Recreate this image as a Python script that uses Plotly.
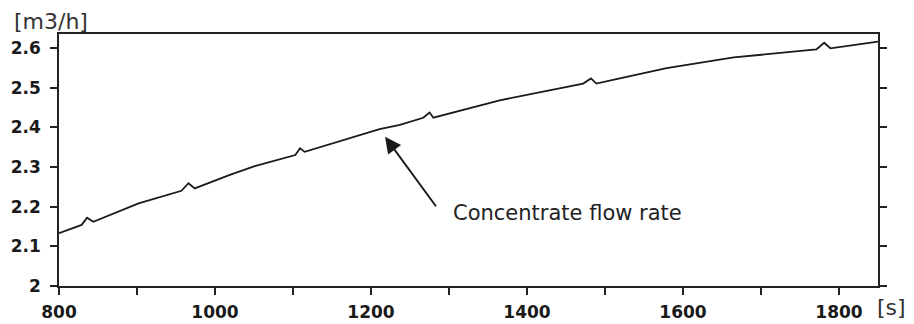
import plotly.graph_objects as go

# Data
time_s = [800, 829, 836, 844, 902, 957, 966, 974, 1019, 1051, 1103, 1109, 1115,
          1211, 1237, 1267, 1275, 1280, 1365, 1472, 1482, 1489, 1519, 1579, 1665,
          1771, 1781, 1789, 1850]
flow_m3h = [2.133, 2.154, 2.172, 2.162, 2.208, 2.240, 2.259, 2.246, 2.280, 2.302,
            2.330, 2.347, 2.338, 2.395, 2.406, 2.424, 2.437, 2.424, 2.468, 2.510,
            2.523, 2.510, 2.523, 2.549, 2.576, 2.596, 2.613, 2.599, 2.616]
x_ticks = [800, 1000, 1200, 1400, 1600, 1800]
x_minor_ticks = [900, 1100, 1300, 1500, 1700]
y_ticks = [2, 2.1, 2.2, 2.3, 2.4, 2.5, 2.6]
y_tick_labels = ["2", "2.1", "2.2", "2.3", "2.4", "2.5", "2.6"]
annotation_text = "Concentrate flow rate"
arrow_point = (1218, 2.376)

W, H = 914, 324
ML, MR, MT, MB = 59, 36, 34, 38
PW, PH = W - ML - MR, H - MT - MB


def px(x):
    return (x - ML) / PW


def py(y):
    return (H - MB - y) / PH


fig = go.Figure()
fig.add_trace(go.Scatter(x=time_s, y=flow_m3h, mode="lines",
                         line=dict(color="#1a1a1a", width=1.8), showlegend=False,
                         hoverinfo="skip", cliponaxis=False))

tickfont = dict(family="DejaVu Sans", size=17, color="#1a1a1a", weight="bold")

fig.update_layout(
    width=W, height=H,
    margin=dict(l=ML, r=MR, t=MT, b=MB, autoexpand=False),
    paper_bgcolor="white", plot_bgcolor="white",
    xaxis=dict(range=[800, 1850], tickvals=x_ticks, ticks="outside", ticklen=7,
               tickwidth=1.5, tickcolor="#222", showgrid=False, zeroline=False,
               showline=True, linecolor="#222", linewidth=1.6, mirror=True,
               automargin=False,
               tickfont=tickfont, ticklabelstandoff=3, minor=dict(
                   tickvals=x_minor_ticks, ticks="outside",
                   ticklen=7, tickwidth=1.5, tickcolor="#222")),
    yaxis=dict(range=[2, 2.635], tickvals=y_ticks, ticktext=y_tick_labels,
               ticks="outside", ticklen=7, tickwidth=1.5, tickcolor="#222",
               showgrid=False, zeroline=False, showline=True, linecolor="#222",
               linewidth=1.6, mirror="ticks", tickfont=tickfont,
               automargin=False, ticklabelstandoff=6),
)

fig.add_annotation(x=arrow_point[0], y=arrow_point[1], xref="x", yref="y",
                   ax=52, ay=71, text="", showarrow=True, arrowhead=2,
                   arrowsize=1.7, arrowwidth=1.9, arrowcolor="#1a1a1a")
fig.add_annotation(x=px(567), y=py(213), xref="paper", yref="paper",
                   xanchor="center", yanchor="middle", text=annotation_text,
                   showarrow=False, font=dict(family="DejaVu Sans", size=21, color="#222"))
fig.add_annotation(x=px(12), y=py(22), xref="paper", yref="paper",
                   xanchor="left", yanchor="middle", text="[m3/h]", showarrow=False,
                   font=dict(family="DejaVu Sans", size=22, color="#333"))
fig.add_annotation(x=px(891), y=py(307), xref="paper", yref="paper",
                   xanchor="center", yanchor="middle", text="[s]", showarrow=False,
                   font=dict(family="DejaVu Sans", size=22, color="#333"))

fig.write_html("out.html")
